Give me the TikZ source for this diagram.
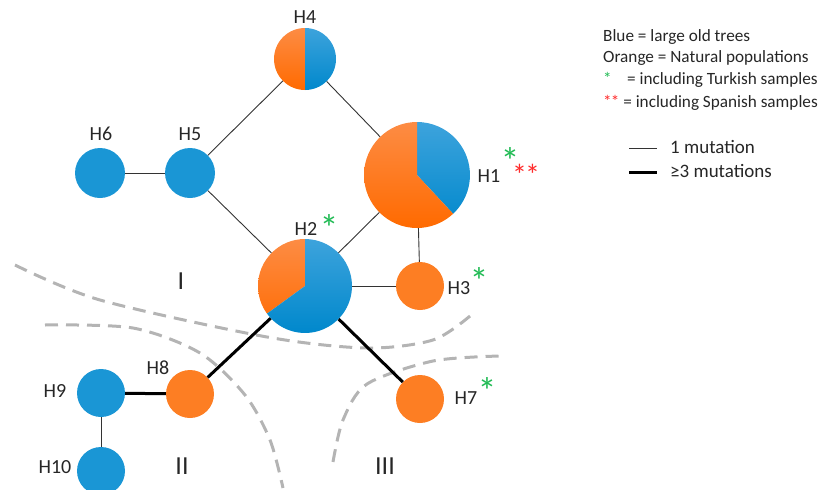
\documentclass[tikz,border=0pt]{standalone}
\usepackage{fontspec}
\setmainfont{Carlito}
\definecolor{hblue}{HTML}{1A96D5}
\definecolor{horange}{HTML}{FD7E23}
\definecolor{btop}{HTML}{3DA3DC}
\definecolor{bbot}{HTML}{0088CC}
\definecolor{otop}{HTML}{FD8C44}
\definecolor{obot}{HTML}{FF6A00}
\definecolor{stargreen}{HTML}{22BB55}
\definecolor{starred}{HTML}{FF2A2A}
\definecolor{dashgray}{HTML}{B4B4B4}
\newcommand\piesector[6]{% center, radius, start, end, topcolor, bottomcolor
  \begin{scope}
    \clip (#1) -- ++(#3:#2) arc[start angle=#3,end angle=#4,radius=#2] -- cycle;
    \shade[top color=#5,bottom color=#6] (#1) circle[radius=#2];
  \end{scope}}
\newcommand\tightstar[1]{\raisebox{-0.42em}[0.30em][0pt]{#1}}
\begin{document}
\begin{tikzpicture}[x=1pt,y=-1pt,
  hap/.style={circle,inner sep=0pt,minimum size=#1},
  bluehap/.style={hap=#1,fill=hblue},
  orangehap/.style={hap=#1,fill=horange},
  lab/.style={font=\fontsize{20}{24}\selectfont,text=black!85,inner sep=0pt},
  roman/.style={font=\fontsize{26}{30}\selectfont,text=black!85,inner sep=0pt},
  gstar/.style={font=\fontsize{38}{38}\selectfont,inner sep=0pt,text=stargreen},
  rstar/.style={font=\fontsize{30}{30}\selectfont,inner sep=0pt,text=starred},
  thin edge/.style={draw=black!80,line width=0.9pt},
  thick edge/.style={draw=black,line width=3pt},
  zone/.style={draw=dashgray,line width=3pt,dash pattern=on 13pt off 8pt},
  legtext/.style={font=\fontsize{17.2}{20}\selectfont,text=black!85,inner sep=0pt,anchor=west},
  legtext2/.style={font=\fontsize{19}{22}\selectfont,text=black!85,inner sep=0pt,anchor=west}]
\useasboundingbox (0,0) rectangle (823,490);

% zone boundaries
\draw[zone] plot[smooth] coordinates {(15,265) (100,300) (267,337) (367,348) (433,340) (470,316)};
\draw[zone] plot[smooth] coordinates {(45,325) (133,328) (200,353) (245,395) (270,440) (283,488)};
\draw[zone] plot[smooth] coordinates {(333,462) (343,420) (367,384) (433,361) (500,356)};

% pie nodes
\node[hap=62pt] (H4) at (305,59) {};
\piesector{H4.center}{31pt}{90}{270}{otop}{obot}
\piesector{H4.center}{31pt}{270}{450}{btop}{bbot}

\node[hap=106pt] (H1) at (417,175) {};
\piesector{H1.center}{53pt}{-47}{90}{btop}{bbot}
\piesector{H1.center}{53pt}{90}{313}{otop}{obot}

\node[hap=94pt] (H2) at (305,286) {};
\piesector{H2.center}{47pt}{90}{216}{otop}{obot}
\piesector{H2.center}{47pt}{216}{450}{btop}{bbot}

% plain nodes
\node[bluehap=50pt] (H5) at (190,173) {};
\node[bluehap=50pt] (H6) at (100,173) {};
\node[orangehap=48pt] (H3) at (420,286) {};
\node[orangehap=48pt] (H7) at (420,399) {};
\node[orangehap=48pt] (H8) at (190,394) {};
\node[bluehap=48pt] (H9) at (101,393) {};
\node[bluehap=48pt] (H10) at (101,471) {};

% edges
\draw[thin edge] (H4) -- (H5);
\draw[thin edge] (H4) -- (H1);
\draw[thin edge] (H5) -- (H2);
\draw[thin edge] (H5) -- (H6);
\draw[thin edge] (H1) -- (H2);
\draw[thin edge] (H1) -- (H3);
\draw[thin edge] (H2) -- (H3);
\draw[thin edge] (H9) -- (H10);
\draw[thick edge] (H2) -- (H8);
\draw[thick edge] (H2) -- (H7);
\draw[thick edge] (H8) -- (H9);

% labels
\node[lab] (L4) at (305,17) {H4};
\node[lab] (L5) at (190,134) {H5};
\node[lab] (L6) at (101,134) {H6};
\node[lab] (L2) at (306,229) {H2};
\node[gstar] (S2) at (329,220) {\tightstar{*}};
\node[lab] (L1) at (489,176) {H1};
\node[gstar] (S1) at (510,153) {\tightstar{*}};
\node[rstar] (R1) at (526,168) {\tightstar{*\kern-2pt*}};
\node[lab] (L3) at (459,288) {H3};
\node[gstar] (S3) at (479,273) {\tightstar{*}};
\node[lab] (L7) at (466,398) {H7};
\node[gstar] (S7) at (487,383) {\tightstar{*}};
\node[lab] (L8) at (158,368) {H8};
\node[lab] (L9) at (55,391) {H9};
\node[lab] (L10) at (55,467) {H10};

\node[roman] (Z1) at (181,281) {I};
\node[roman] (Z2) at (182,466) {II};
\node[roman] (Z3) at (385,466) {III};

% legend
\node[legtext] (T1) at (603,37) {Blue = large old trees};
\node[legtext] (T2) at (603,58) {Orange = Natural populations};
\node[legtext] (T3) at (603,80) {\textcolor{stargreen}{*}\hspace{0.9em}= including Turkish samples};
\node[legtext] (T4) at (603,103) {\textcolor{starred}{*\kern-1pt*}\kern4pt= including Spanish samples};
\coordinate (A1) at (629,148);
\coordinate (B1) at (657,148);
\coordinate (A2) at (629,172);
\coordinate (B2) at (657,172);
\draw[thin edge] (A1) -- (B1);
\draw[thick edge] (A2) -- (B2);
\node[legtext2] (M1) at (670,147) {1 mutation};
\node[legtext2] (M2) at (670,171) {≥3 mutations};
\end{tikzpicture}
\end{document}
